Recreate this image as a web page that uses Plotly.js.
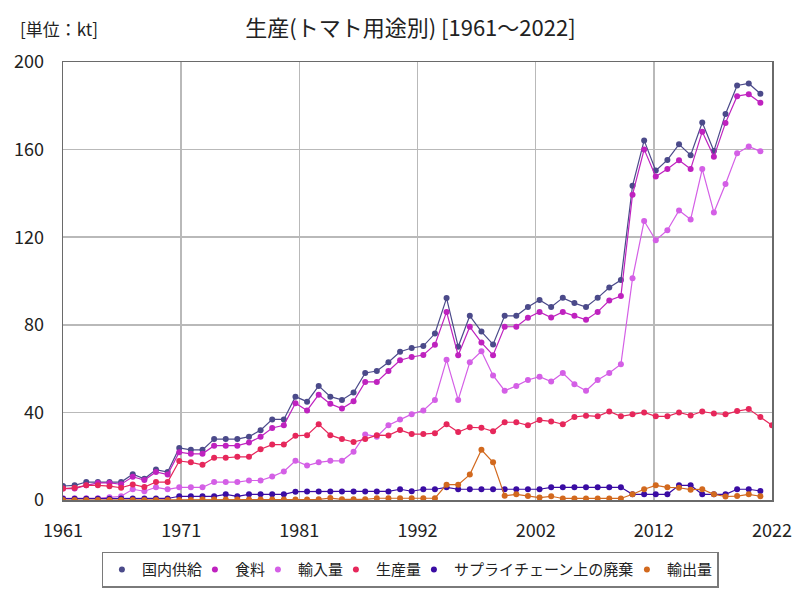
<!DOCTYPE html>
<html>
<head>
<meta charset="utf-8">
<script src="https://cdn.plot.ly/plotly-3.0.1.min.js"></script>
<style>
  body { margin: 0; background: #fff; }
  #chart { width: 800px; height: 600px; }
</style>
</head>
<body>
<div id="chart"></div>
<script>
// 年 (1961〜2022)
var years = [];
for (var yr = 1961; yr <= 2022; yr++) years.push(yr);

// 国内供給
var supply = [6.4, 6.7, 8.2, 8.2, 8.2, 8.2, 11.8, 9.7, 13.9, 12.8,
  23.8, 22.9, 22.9, 27.8, 27.8, 27.8, 28.9, 31.9, 36.8, 36.8,
  47.2, 44.9, 52.1, 47.2, 45.7, 49.1, 58.0, 58.9, 62.9, 67.7,
  69.4, 70.3, 76.0, 92.2, 70.0, 84.1, 76.9, 71.0, 84.1, 84.1,
  88.1, 91.3, 88.1, 92.3, 89.9, 88.1, 92.3, 97.0, 100.4, 143.5,
  164.2, 150.4, 155.3, 162.4, 157.4, 172.4, 159.4, 176.3, 189.3, 190.2,
  185.5, null];

// 食料
var food = [5.2, 5.2, 6.7, 7.8, 7.8, 7.2, 10.6, 9.1, 12.8, 11.6,
  21.8, 21.1, 21.1, 24.8, 24.8, 24.8, 26.2, 28.9, 32.9, 34.1,
  44.2, 40.9, 48.1, 43.9, 41.8, 45.1, 53.9, 53.9, 58.9, 63.8,
  65.3, 66.2, 70.9, 85.9, 66.1, 79.1, 71.9, 66.1, 79.1, 79.1,
  83.2, 85.9, 83.3, 85.9, 84.1, 82.3, 85.9, 91.1, 93.1, 139.4,
  160.1, 147.7, 151.1, 155.1, 151.1, 168.2, 156.7, 172.2, 184.4, 185.3,
  181.4, null];

// 輸入量
var imports = [0.8, 0.8, 0.8, 0.8, 1.2, 1.7, 4.9, 4.0, 5.8, 4.9,
  5.8, 5.8, 5.8, 8.2, 8.2, 8.2, 8.9, 8.9, 10.7, 13.0,
  17.9, 15.7, 17.2, 17.9, 17.9, 22.0, 29.9, 28.9, 34.1, 36.8,
  39.2, 40.9, 45.7, 64.0, 45.7, 62.9, 67.9, 56.9, 49.9, 52.1,
  54.8, 56.3, 54.1, 58.0, 52.9, 49.9, 54.8, 58.0, 62.0, 101.2,
  127.4, 118.6, 123.2, 132.2, 128.1, 151.1, 131.3, 144.3, 158.3, 161.4,
  159.2, null];

// 生産量
var production = [5.2, 5.6, 6.7, 6.7, 6.3, 5.6, 7.1, 5.9, 8.2, 8.2,
  17.8, 17.2, 16.1, 19.3, 19.3, 19.7, 19.7, 23.2, 25.3, 25.3,
  29.3, 29.6, 34.6, 29.6, 27.8, 26.5, 27.8, 29.6, 29.5, 32.0,
  30.1, 30.1, 30.5, 34.6, 31.0, 33.2, 33.0, 31.4, 35.5, 35.5,
  34.1, 36.5, 35.9, 34.6, 37.9, 38.5, 38.2, 40.4, 38.2, 39.1,
  40.0, 38.2, 38.2, 40.0, 38.6, 40.4, 39.5, 39.1, 40.6, 41.5,
  37.9, 34.1];

// サプライチェーン上の廃棄
var waste = [0.6, 0.6, 0.6, 0.6, 0.6, 0.7, 0.7, 0.7, 0.7, 0.7,
  1.7, 1.7, 1.7, 1.7, 2.6, 1.7, 2.6, 2.6, 2.6, 2.6,
  3.8, 3.9, 3.9, 3.9, 3.9, 3.9, 3.9, 3.9, 3.9, 4.9,
  4.0, 4.9, 4.9, 5.8, 4.9, 4.9, 4.9, 4.9, 4.9, 4.9,
  4.9, 4.9, 5.8, 5.8, 5.8, 5.8, 5.8, 5.8, 5.8, 2.6,
  2.6, 2.6, 2.6, 6.7, 6.7, 2.6, 2.6, 2.6, 4.9, 4.9,
  4.1, null];

// 輸出量
var exportsQ = [0, 0, 0, 0, 0, 0, 0, 0, 0, 0,
  0, 0, 0.2, 0.2, 0.2, 0.2, 0.2, 0.2, 0.2, 0.2,
  0.2, 0.2, 0.3, 0.9, 0.3, 0.3, 0.3, 0.8, 0.8, 0.8,
  0.8, 0.8, 0.8, 7.0, 7.0, 11.6, 22.9, 17.2, 1.9, 2.6,
  1.8, 1.1, 1.7, 0.7, 0.7, 0.7, 0.7, 0.7, 0.7, 2.6,
  4.9, 6.7, 5.8, 5.6, 4.7, 4.9, 2.6, 1.6, 1.8, 2.6,
  1.7, null];

var seriesNames = ["国内供給", "食料", "輸入量", "生産量", "サプライチェーン上の廃棄", "輸出量"];
var seriesValues = [supply, food, imports, production, waste, exportsQ];
var seriesColors = ["#4b4a8a", "#bf22bf", "#d45fe6", "#e6275b", "#3a0ca3", "#d2691e"];

var legendFontSize = 15;

// 線 (凡例なし) と点 (凡例は点のみ)
var data = [];
for (var i = 0; i < seriesNames.length; i++) {
  var isLast = (i === seriesNames.length - 1);
  data.push({
    x: years,
    y: seriesValues[i],
    name: seriesNames[i],
    legendgroup: seriesNames[i],
    showlegend: false,
    type: "scatter",
    mode: "lines",
    line: {color: seriesColors[i], width: 1.2}
  });
  data.push({
    x: years,
    y: seriesValues[i],
    name: seriesNames[i],
    legendgroup: seriesNames[i],
    // 凡例の間隔を詰める (最後の項目は枠内に収める)
    legendwidth: seriesNames[i].length * legendFontSize + (isLast ? 0 : -12),
    type: "scatter",
    mode: "markers",
    marker: {color: seriesColors[i], size: 6}
  });
}

// 目盛り: 期間を6等分
var first = years[0], last = years[years.length - 1];
var tickvals = [], ticktext = [];
for (var k = 0; k <= 6; k++) {
  var v = first + k * (last - first) / 6;
  tickvals.push(v);
  ticktext.push(String(Math.round(v)));
}

var font = "Noto Sans CJK JP, sans-serif";

var layout = {
  width: 800,
  height: 600,
  paper_bgcolor: "#fff",
  plot_bgcolor: "#fff",
  margin: {l: 63, r: 28, t: 62, b: 92.5},
  font: {family: font, color: "#222", size: 16},
  title: {
    text: "生産(トマト用途別) [1961～2022]",
    font: {family: font, size: 22, color: "#222"},
    xref: "paper", x: 0.49, xanchor: "center",
    yref: "container", y: 0.953, yanchor: "middle"
  },
  annotations: [{
    text: "[単位：kt]",
    xref: "paper", yref: "paper",
    x: -0.064, y: 1.077,
    xanchor: "left", yanchor: "middle",
    showarrow: false,
    font: {family: font, size: 17, color: "#222"}
  }],
  xaxis: {
    range: [first, last],
    tickmode: "array",
    tickvals: tickvals,
    ticktext: ticktext,
    ticks: "",
    ticklabelstandoff: 14,
    showgrid: true,
    gridcolor: "#b9b9b9",
    gridwidth: 1.5,
    zeroline: false,
    showline: true,
    linecolor: "#6a6a6a",
    linewidth: 1.5,
    mirror: true,
    tickfont: {size: 18}
  },
  yaxis: {
    range: [0, 200],
    tickvals: [0, 40, 80, 120, 160, 200],
    ticks: "",
    ticklabelstandoff: 14,
    showgrid: true,
    gridcolor: "#b9b9b9",
    gridwidth: 1.5,
    zeroline: false,
    showline: true,
    linecolor: "#6a6a6a",
    linewidth: 1.5,
    mirror: true,
    tickfont: {size: 18}
  },
  legend: {
    orientation: "h",
    xref: "paper", x: 0.49, xanchor: "center",
    yref: "paper", y: -0.118, yanchor: "top",
    bordercolor: "#7a7a7a",
    borderwidth: 1.5,
    font: {family: font, size: legendFontSize, color: "#222"},
    itemwidth: 30,
    tracegroupgap: 0
  },
  showlegend: true
};

Plotly.newPlot("chart", data, layout, {displayModeBar: false, staticPlot: true});
</script>
</body>
</html>
